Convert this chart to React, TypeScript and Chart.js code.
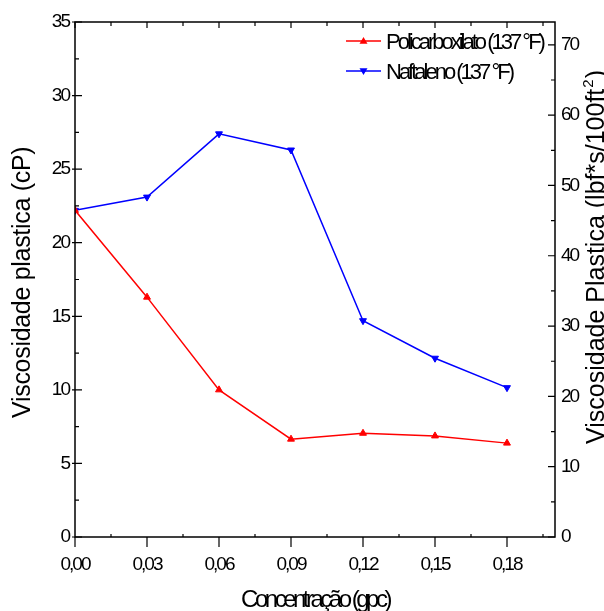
import React, { useEffect, useRef } from 'react';
import { Chart, registerables } from 'chart.js';

Chart.register(...registerables);

// ---- data ----
const concentrations = [0, 0.03, 0.06, 0.09, 0.12, 0.15, 0.18];
const policarboxilato = [22.2, 16.3, 10.0, 6.65, 7.05, 6.87, 6.38];
const naftaleno = [22.2, 23.1, 27.4, 26.3, 14.7, 12.15, 10.15];
const seriesLabels = ['Policarboxilato (137 °F)', 'Naftaleno (137 °F)'];
const seriesColors = ['#ff0000', '#0000ff'];

const xTicks = [0, 0.03, 0.06, 0.09, 0.12, 0.15, 0.18];
const xMinorTicks = [0.015, 0.045, 0.075, 0.105, 0.135, 0.165, 0.195];
const yTicks = [0, 5, 10, 15, 20, 25, 30, 35];
const yMinorTicks = [2.5, 7.5, 12.5, 17.5, 22.5, 27.5, 32.5];
const y2Ticks = [0, 10, 20, 30, 40, 50, 60, 70];
const y2MinorTicks = [5, 15, 25, 35, 45, 55, 65];

const xTitle = 'Concentração (gpc)';
const yTitle = 'Viscosidade plastica (cP)';
const y2TitleMain = 'Viscosidade Plastica (lbf*s/100ft';
const y2TitleSup = '2';
const y2TitleEnd = ')';

const FONT = '"Liberation Sans", Arial, Helvetica, sans-serif';

const decor = {
  id: 'decor',
  beforeDraw(chart: any) {
    chart.ctx.letterSpacing = '-2px';
  },
  afterDraw(chart: any) {
    const ctx = chart.ctx as CanvasRenderingContext2D;
    const { left, right, top, bottom } = chart.chartArea;
    const xs = chart.scales.x;
    const ys = chart.scales.y;
    const y2s = chart.scales.y2;
    ctx.save();
    ctx.strokeStyle = '#000';
    ctx.lineWidth = 1.5;
    ctx.strokeRect(left, top, right - left, bottom - top);

    ctx.lineWidth = 1.2;
    ctx.beginPath();
    xTicks.forEach((v) => {
      const px = xs.getPixelForValue(v);
      ctx.moveTo(px, bottom);
      ctx.lineTo(px, bottom + 10);
      ctx.moveTo(px, top);
      ctx.lineTo(px, top + 6);
    });
    xMinorTicks.forEach((v) => {
      const px = xs.getPixelForValue(v);
      ctx.moveTo(px, bottom);
      ctx.lineTo(px, bottom - 3);
      ctx.moveTo(px, top);
      ctx.lineTo(px, top + 4);
    });
    yTicks.forEach((v) => {
      const py = ys.getPixelForValue(v);
      ctx.moveTo(left - 3, py);
      ctx.lineTo(left + 7, py);
    });
    yMinorTicks.forEach((v) => {
      const py = ys.getPixelForValue(v);
      ctx.moveTo(left, py);
      ctx.lineTo(left + 4, py);
    });
    y2Ticks.forEach((v) => {
      const py = y2s.getPixelForValue(v);
      ctx.moveTo(right, py);
      ctx.lineTo(right - 7, py);
    });
    y2MinorTicks.forEach((v) => {
      const py = y2s.getPixelForValue(v);
      ctx.moveTo(right, py);
      ctx.lineTo(right - 4, py);
    });
    ctx.stroke();

    ctx.fillStyle = '#000';
    // left title
    ctx.save();
    ctx.translate(30, 418);
    ctx.rotate(-Math.PI / 2);
    ctx.font = `25px ${FONT}`;
    ctx.letterSpacing = '-0.3px';
    ctx.textAlign = 'left';
    ctx.textBaseline = 'alphabetic';
    ctx.fillText(yTitle, 0, 0);
    ctx.restore();

    // right title
    ctx.save();
    ctx.translate(604, 444);
    ctx.rotate(-Math.PI / 2);
    ctx.font = `25px ${FONT}`;
    ctx.letterSpacing = '0px';
    ctx.textAlign = 'left';
    ctx.textBaseline = 'alphabetic';
    ctx.fillText(y2TitleMain, 0, 0);
    const w = ctx.measureText(y2TitleMain).width;
    ctx.font = `15px ${FONT}`;
    ctx.fillText(y2TitleSup, w + 1, -11);
    const sw = ctx.measureText(y2TitleSup).width;
    ctx.font = `25px ${FONT}`;
    ctx.fillText(y2TitleEnd, w + sw + 2, 0);
    ctx.restore();

    // bottom title
    ctx.save();
    ctx.font = `24px ${FONT}`;
    ctx.letterSpacing = '-3.5px';
    ctx.textAlign = 'center';
    ctx.textBaseline = 'alphabetic';
    ctx.fillText(xTitle, (left + right) / 2, 607);
    ctx.restore();

    // legend
    const legendY = [41, 71];
    chart.data.datasets.forEach((ds: any, i: number) => {
      const ly = legendY[i];
      ctx.save();
      ctx.strokeStyle = ds.borderColor;
      ctx.fillStyle = ds.borderColor;
      ctx.lineWidth = 1.5;
      ctx.beginPath();
      ctx.moveTo(346, ly);
      ctx.lineTo(381, ly);
      ctx.stroke();
      const cx = 363.5;
      const r = 4;
      ctx.beginPath();
      if (i === 0) {
        ctx.moveTo(cx, ly - r);
        ctx.lineTo(cx + r, ly + r * 0.7);
        ctx.lineTo(cx - r, ly + r * 0.7);
      } else {
        ctx.moveTo(cx, ly + r);
        ctx.lineTo(cx + r, ly - r * 0.7);
        ctx.lineTo(cx - r, ly - r * 0.7);
      }
      ctx.closePath();
      ctx.fill();
      ctx.fillStyle = '#000';
      ctx.font = `22px ${FONT}`;
      ctx.letterSpacing = '-3px';
      ctx.textAlign = 'left';
      ctx.textBaseline = 'middle';
      ctx.fillText(ds.label, 386, ly + 2);
      ctx.restore();
    });
    ctx.restore();
  },
};

function setTicks(values: number[]) {
  return (scale: any) => {
    scale.ticks = values.map((v) => ({ value: v }));
  };
}

export default function App() {
  const ref = useRef<HTMLCanvasElement | null>(null);
  useEffect(() => {
    if (!ref.current) return;
    const tickFont = { family: FONT, size: 19 };
    const chart = new Chart(ref.current, {
      type: 'line',
      data: {
        datasets: [
          {
            label: seriesLabels[0],
            data: concentrations.map((c, i) => ({ x: c, y: policarboxilato[i] })),
            borderColor: seriesColors[0],
            backgroundColor: seriesColors[0],
            borderWidth: 1.5,
            pointStyle: 'triangle',
            pointRadius: 4,
            pointBorderWidth: 1,
            yAxisID: 'y',
          },
          {
            label: seriesLabels[1],
            data: concentrations.map((c, i) => ({ x: c, y: naftaleno[i] })),
            borderColor: seriesColors[1],
            backgroundColor: seriesColors[1],
            borderWidth: 1.5,
            pointStyle: 'triangle',
            pointRotation: 180,
            pointRadius: 4,
            pointBorderWidth: 1,
            yAxisID: 'y',
          },
        ],
      },
      options: {
        responsive: false,
        animation: false,
        devicePixelRatio: 1,
        layout: { padding: { top: 22, left: 0, right: 0, bottom: 0 } },
        plugins: { legend: { display: false }, tooltip: { enabled: false } },
        scales: {
          x: {
            type: 'linear',
            min: 0,
            max: 0.2,
            afterBuildTicks: setTicks(xTicks),
            afterFit: (s: any) => { s.height = 74; },
            grid: { display: false, drawTicks: false },
            border: { display: false },
            ticks: {
              color: '#000',
              font: tickFont,
              padding: 16,
              maxRotation: 0,
              autoSkip: false,
              callback: (v: any) => Number(v).toFixed(2).replace('.', ','),
            },
          },
          y: {
            type: 'linear',
            position: 'left',
            min: 0,
            max: 35,
            afterBuildTicks: setTicks(yTicks),
            afterFit: (s: any) => { s.width = 75; },
            grid: { display: false, drawTicks: false },
            border: { display: false },
            ticks: { color: '#000', font: tickFont, padding: 6, autoSkip: false },
          },
          y2: {
            type: 'linear',
            position: 'right',
            min: 0,
            max: 73.25,
            afterBuildTicks: setTicks(y2Ticks),
            afterFit: (s: any) => { s.width = 49; },
            grid: { display: false, drawTicks: false },
            border: { display: false },
            ticks: { color: '#000', font: tickFont, padding: 6, autoSkip: false },
          },
        },
      },
      plugins: [decor],
    } as any);
    return () => chart.destroy();
  }, []);
  return (
    <canvas
      ref={ref}
      width={604}
      height={611}
      style={{ position: 'absolute', left: 0, top: 0, width: 604, height: 611, display: 'block' }}
    />
  );
}
